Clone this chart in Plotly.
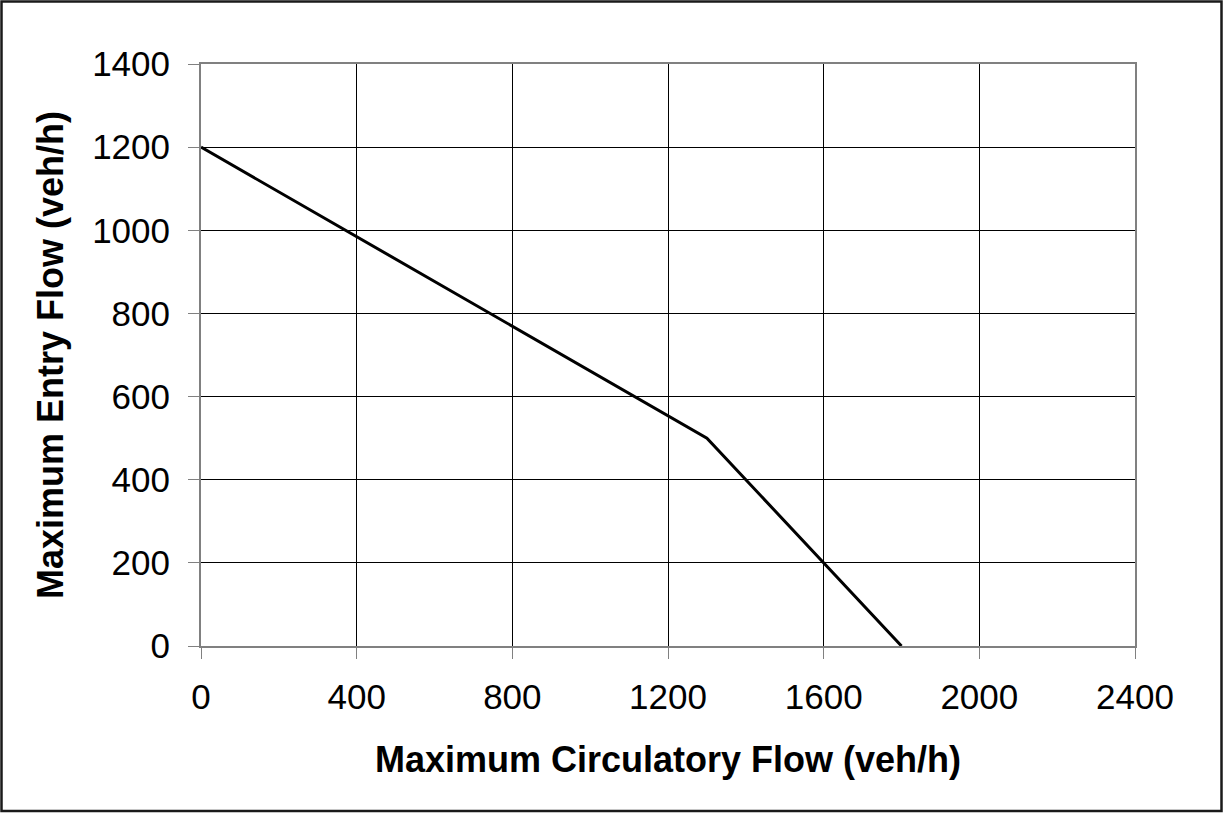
import plotly.graph_objects as go

# Entry capacity vs circulating flow
circulatory_flow = [0, 1300, 1800]
entry_flow = [1200, 500, 0]

x_ticks = [0, 400, 800, 1200, 1600, 2000, 2400]
y_ticks = [0, 200, 400, 600, 800, 1000, 1200, 1400]

W, H = 1225, 813
L, R, T, B = 201, 90, 64, 167
pw, ph = W - L - R, H - T - B

FONT = "Liberation Sans, Arial"

fig = go.Figure()
fig.add_trace(go.Scatter(
    x=circulatory_flow, y=entry_flow, mode="lines",
    line=dict(color="#000000", width=3), showlegend=False,
))

axis_common = dict(
    showline=True, linecolor="#808080", linewidth=2, mirror=True,
    showgrid=True, gridcolor="#000000", gridwidth=1,
    ticks="outside", ticklen=11, tickcolor="#808080", tickwidth=1,
    zeroline=True, zerolinecolor="#000000", zerolinewidth=1,
    tickfont=dict(family=FONT, size=35, color="#000000"),
)

fig.update_layout(
    width=W, height=H,
    margin=dict(l=L, r=R, t=T, b=B),
    paper_bgcolor="white", plot_bgcolor="white",
    xaxis=dict(
        range=[0, 2400], tickvals=x_ticks, ticktext=[str(v) for v in x_ticks],
        ticklabelstandoff=8,
        title=dict(text="<b>Maximum Circulatory Flow (veh/h)</b>",
                   font=dict(family=FONT, size=36, color="#000000"),
                   standoff=32),
        **axis_common,
    ),
    yaxis=dict(
        range=[0, 1400], tickvals=y_ticks, ticktext=[str(v) for v in y_ticks],
        ticklabelstandoff=11,
        title=dict(text="<b>Maximum Entry Flow (veh/h)</b>",
                   font=dict(family=FONT, size=36, color="#000000"),
                   standoff=18),
        **axis_common,
    ),
)

# Frame around the whole chart
fig.add_shape(
    type="rect", xref="paper", yref="paper",
    x0=(1.5 - L) / pw, x1=(1221.5 - L) / pw,
    y0=(H - B - 811) / ph, y1=(H - B - 1.5) / ph,
    line=dict(color="#1a1a1a", width=2.5), fillcolor="rgba(0,0,0,0)",
    layer="below",
)

fig.write_html("out.html")
